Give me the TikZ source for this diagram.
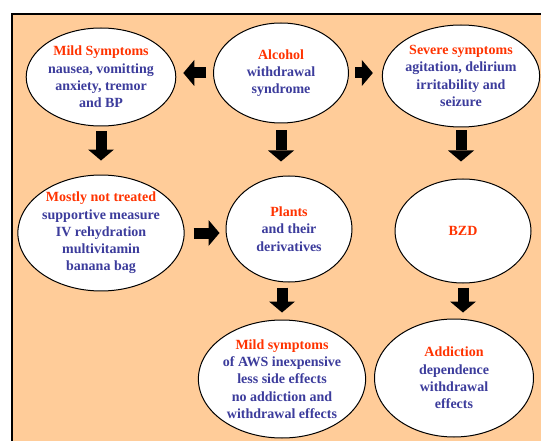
\documentclass[tikz,border=0pt]{standalone}
\usepackage{fontspec}
\setmainfont{Liberation Serif}
\usepackage{xcolor}
\usepackage{tikz}
\usetikzlibrary{arrows.meta,shapes.geometric}
\definecolor{peach}{HTML}{FFCC99}
\definecolor{awsred}{HTML}{FF3300}
\definecolor{awsblue}{HTML}{3C3C9C}
\tikzset{
  oval/.style={ellipse,draw,fill=white,line width=1pt,inner sep=0pt,align=center,
    text=awsblue,font=\fontsize{14}{17.3}\selectfont\bfseries},
  blockarrow/.style={line width=11pt,-{Triangle[length=11pt,width=26pt,line width=0pt]}}
}
\newcommand{\hd}[1]{\textcolor{awsred}{#1}}

\begin{document}
\begin{tikzpicture}[x=1pt,y=-1pt]
  \useasboundingbox (0,0) rectangle (541,441);
  \draw[line width=1.5pt,fill=peach] (12,14) rectangle (560,460);
  \node[oval,minimum width=136pt,minimum height=98pt] (mild) at (101,77)
    {\hd{Mild Symptoms}\\nausea, vomitting\\anxiety, tremor\\and BP};
  \node[oval,minimum width=135pt,minimum height=100pt] (alcohol) at (281,73)
    {\hd{Alcohol}\\withdrawal\\syndrome};
  \node[oval,minimum width=134pt,minimum height=102pt] (severe) at (461,76)
    {\hd{Severe symptoms}\\agitation, delirium\\irritability and\\seizure};
  \node[oval,minimum width=159pt,minimum height=115pt] (treat) at (101,233)
    {\hd{Mostly not treated}\\supportive measure\\IV rehydration\\multivitamin\\banana bag};
  \node[oval,minimum width=126pt,minimum height=106pt] (plants) at (289,229)
    {\hd{Plants}\\and their\\derivatives};
  \node[oval,minimum width=136pt,minimum height=104pt] (bzd) at (463,231)
    {\hd{BZD}};
  \node[oval,minimum width=160pt,minimum height=118pt] (aws) at (282,379)
    {\hd{Mild symptoms}\\of AWS inexpensive\\less side effects\\no addiction and\\withdrawal effects};
  \node[oval,minimum width=159pt,minimum height=118pt] (addict) at (454,378)
    {\hd{Addiction}\\dependence\\withdrawal\\effects};
  \draw[blockarrow,shorten <=7pt,shorten >=7pt] (alcohol.west) -- (alcohol.west -| mild.east);
  \draw[blockarrow,shorten <=6pt,shorten >=9pt] (alcohol.east) -- (alcohol.east -| severe.west);
  \draw[blockarrow,shorten <=5pt,shorten >=14pt] (mild.south) -- (mild.south |- treat.north);
  \draw[blockarrow,shorten <=7pt,shorten >=14pt] (alcohol.south) -- (alcohol.south |- plants.north);
  \draw[blockarrow,shorten <=3pt,shorten >=17pt] (severe.south) -- (severe.south |- bzd.north);
  \draw[blockarrow,shorten <=9pt,shorten >=6pt] (treat.east) -- (treat.east -| plants.west);
  \draw[blockarrow,shorten <=5pt,shorten >=7pt] (aws.north |- plants.south) -- (aws.north);
  \draw[blockarrow,shorten <=4pt,shorten >=6pt] (bzd.south) -- (bzd.south |- addict.north);
\end{tikzpicture}
\end{document}
